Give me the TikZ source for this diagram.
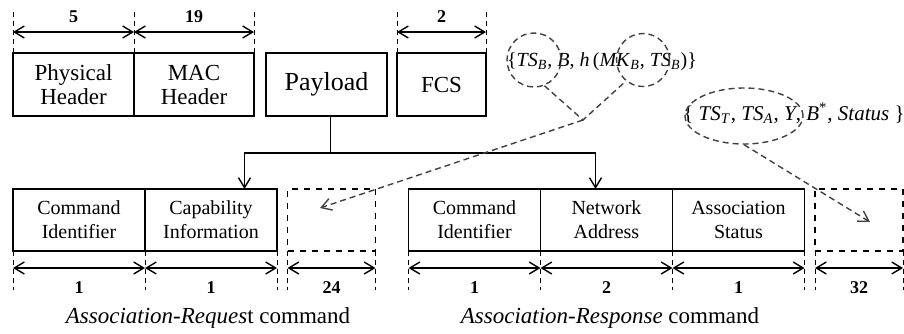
\documentclass[tikz,border=0pt]{standalone}
\usepackage{fontspec}
\setmainfont{Liberation Serif}
\usetikzlibrary{arrows.meta, positioning, shapes.geometric}

\tikzset{
	field/.style={draw, line width=0.8pt, align=center, inner sep=0pt, outer sep=0pt,
		minimum height=31.5pt, font=\fontsize{11.5}{12}\selectfont},
	cmdfield/.style={draw, line width=0.8pt, align=center, inner sep=0pt, outer sep=0pt,
		minimum width=66pt, minimum height=31pt, font=\fontsize{10}{12}\selectfont},
	padfield/.style={draw, dashed, line width=0.6pt, inner sep=0pt, outer sep=0pt,
		minimum width=44pt, minimum height=31pt},
	guide/.style={dash pattern=on 2.5pt off 2pt, line width=0.5pt},
	dim/.style={<->, line width=0.7pt},
	hint/.style={dash pattern=on 3pt off 2pt, line width=0.7pt, black!75},
	bits/.style={font=\bfseries\fontsize{9}{10}\selectfont},
	caption/.style={font=\fontsize{11.5}{12}\selectfont},
}

\begin{document}
\begin{tikzpicture}[x=0.5pt, y=-0.5pt, >={Straight Barb[length=5pt, width=6pt]}]

	\useasboundingbox (0,0) rectangle (904,333);

	% frame
	\node[field, minimum width=60.5pt] (phy) at (73.5,84.5) {Physical\\Header};
	\node[field, minimum width=60pt, right=0pt of phy] (mac) {MAC\\Header};
	\node[field, minimum width=60.5pt, font=\fontsize{13}{14}\selectfont] (payload) at (326.5,84.5) {Payload};
	\node[field, minimum width=44.5pt] (fcs) at (441.5,84.5) {FCS};

	% request command
	\node[cmdfield] (reqcmd) at (79,220) {Command\\Identifier};
	\node[cmdfield, right=0pt of reqcmd] (capinfo) {Capability\\Information};
	\node[padfield] (reqpad) at (331.5,220) {};

	% response command
	\node[cmdfield] (respcmd) at (474.5,220) {Command\\Identifier};
	\node[cmdfield, right=0pt of respcmd] (netaddr) {Network\\Address};
	\node[cmdfield, right=0pt of netaddr] (status) {Association\\Status};
	\node[padfield] (resppad) at (859,220) {};

	% sizes of the frame
	\draw[guide]
	(phy.north west) -- ++(0,-43) (phy.north east) -- ++(0,-43) (mac.north east) -- ++(0,-43)
	(fcs.north west) -- ++(0,-43) (fcs.north east) -- ++(0,-43);
	\draw[dim] ([yshift=10.5pt]phy.north west) -- node[bits, above=1pt] {5} ([yshift=10.5pt]phy.north east);
	\draw[dim] ([yshift=10.5pt]mac.north west) -- node[bits, above=1pt] {19} ([yshift=10.5pt]mac.north east);
	\draw[dim] ([yshift=10.5pt]fcs.north west) -- node[bits, above=1pt] {2} ([yshift=10.5pt]fcs.north east);

	% sizes of the commands
	\draw[guide]
	(reqcmd.south west) -- ++(0,39) (capinfo.south west) -- ++(0,39) (capinfo.south east) -- ++(0,39)
	(reqpad.south west) -- ++(0,39) (reqpad.south east) -- ++(0,39)
	(respcmd.south west) -- ++(0,39) (netaddr.south west) -- ++(0,39) (status.south west) -- ++(0,39)
	(status.south east) -- ++(0,39) (resppad.south west) -- ++(0,39) (resppad.south east) -- ++(0,39);
	\draw[dim] ([yshift=-8.5pt]reqcmd.south west) -- node[bits, below=3pt] {1} ([yshift=-8.5pt]reqcmd.south east);
	\draw[dim] ([yshift=-8.5pt]capinfo.south west) -- node[bits, below=3pt] {1} ([yshift=-8.5pt]capinfo.south east);
	\draw[dim] ([yshift=-8.5pt]reqpad.south west) -- node[bits, below=3pt] {24} ([yshift=-8.5pt]reqpad.south east);
	\draw[dim] ([yshift=-8.5pt]respcmd.south west) -- node[bits, below=3pt] {1} ([yshift=-8.5pt]respcmd.south east);
	\draw[dim] ([yshift=-8.5pt]netaddr.south west) -- node[bits, below=3pt] {2} ([yshift=-8.5pt]netaddr.south east);
	\draw[dim] ([yshift=-8.5pt]status.south west) -- node[bits, below=3pt] {1} ([yshift=-8.5pt]status.south east);
	\draw[dim] ([yshift=-8.5pt]resppad.south west) -- node[bits, below=3pt] {32} ([yshift=-8.5pt]resppad.south east);

	% payload split
	\draw[line width=0.7pt] ([xshift=2pt]payload.south) -- ++(0,37) coordinate (fork);
	\draw[->, line width=0.7pt] (fork) -| ([xshift=16.75pt]capinfo.north);
	\draw[->, line width=0.7pt] (fork) -| ([xshift=-5.5pt]netaddr.north);

	% added fields
	\node[font=\fontsize{10}{12}\selectfont, inner sep=0pt] (reqext) at (602,62)
	{\{\textit{TS}\textsubscript{\textit{B}}, \textit{B}, \textit{h}\,(\textit{MK}\textsubscript{\textit{B}}, \textit{TS}\textsubscript{\textit{B}})\}};
	\node[circle, hint, draw, minimum size=27pt, inner sep=0pt] (tsb) at (534,60) {};
	\node[circle, hint, draw, minimum size=26.5pt, inner sep=0pt] (hashts) at (643,60) {};
	\coordinate (knot) at (583,120);
	\draw[hint] (tsb.-68) -- (knot) -- (hashts.231);
	\draw[hint, ->] (knot) -- ([shift={(-11.5,-12)}]reqpad.center);

	\node[font=\fontsize{10.5}{12}\selectfont, inner sep=0pt] (respext) at (794,113)
	{\{ \textit{TS}\textsubscript{\textit{T}}, \textit{TS}\textsubscript{\textit{A}}, \textit{Y}, \textit{B}\textsuperscript{*}, \textit{Status} \}};
	\node[ellipse, hint, draw, minimum width=59pt, minimum height=28pt, inner sep=0pt] (nonce) at (744,116) {};
	\draw[hint, ->] (nonce.south) -- ([shift={(11,2)}]resppad.center);

	% captions
	\node[caption] (reqname) at (208,318) {\textit{Association-Reques}t command};
	\node[caption] (respname) at (610,318) {\textit{Association-Response} command};

\end{tikzpicture}
\end{document}
